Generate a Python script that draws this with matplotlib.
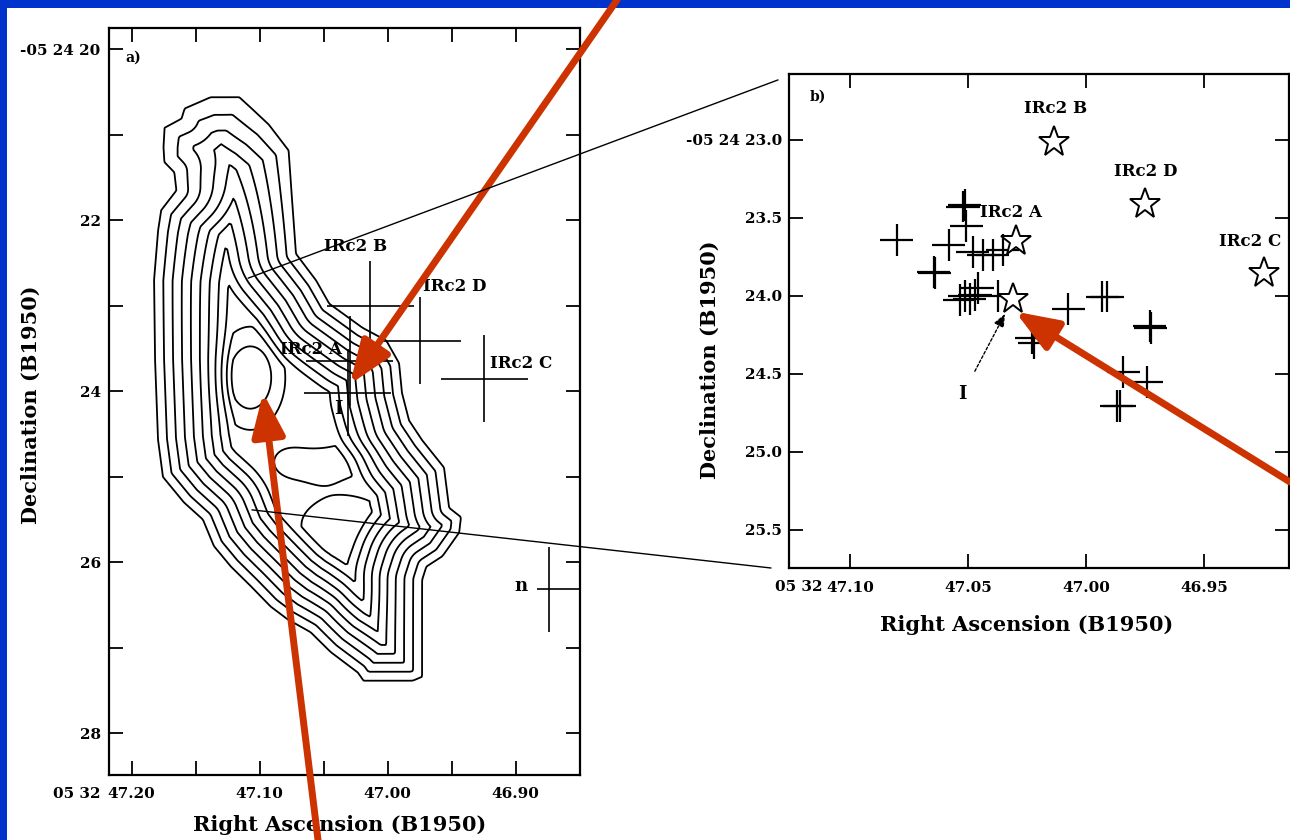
import numpy as np
import matplotlib.pyplot as plt
from matplotlib.patches import Rectangle, ConnectionPatch
from matplotlib.path import Path

plt.rcParams['font.family'] = ['DejaVu Serif']
plt.rcParams['font.weight'] = 'bold'
plt.rcParams['axes.labelweight'] = 'bold'

# Sources: RA in seconds of 05h32m, Dec in arcsec of -05d24m (B1950)
src_names = ['IRc2 A', 'IRc2 B', 'IRc2 C', 'IRc2 D', 'I']
src_ra = [47.0295, 47.0135, 46.9245, 46.975, 47.031]
src_dec = [23.65, 23.01, 23.855, 23.41, 24.02]
src_ra_err = [0.034, 0.034, 0.034, 0.032, 0.034]
src_dec_err = [0.53, 0.53, 0.51, 0.51, 0.51]

# source n (outside the zoomed field)
n_ra = [46.874]
n_dec = [26.32]
n_ra_err = [[0.033], [0.009]]
n_dec_err = [0.50]

# maser spots in the zoomed field
spot_ra = [47.0801, 47.0513, 47.0521, 47.0508, 47.0581, 47.0640, 47.0645, 47.0479,
           47.0436, 47.0394, 47.0352, 47.0513, 47.0492, 47.0470, 47.0534, 47.0458,
           47.0373, 47.0076, 46.9932, 46.9911, 46.9729, 46.9725, 47.0229, 47.0220,
           46.9843, 46.9742, 46.9869, 46.9856]
spot_dec = [23.641, 23.417, 23.429, 23.551, 23.673, 23.853, 23.846, 23.718,
            23.737, 23.737, 23.705, 24.000, 24.019, 23.994, 24.026, 23.949,
            24.000, 24.083, 24.006, 24.006, 24.192, 24.205, 24.269, 24.301,
            24.487, 24.551, 24.705, 24.705]
spot_ra_err = 0.007
spot_dec_err = 0.10

# outer boundary of the emission (lowest contour)
edge_ra = [47.1598, 47.1387, 47.1153, 47.1052, 47.0919, 47.0763, 47.0739, 47.0708,
           47.0552, 47.0450, 47.0192, 47.0005, 46.9903, 46.9880, 46.9825, 46.9723,
           46.9552, 46.9513, 46.9419, 46.9434, 46.9567, 46.9692, 46.9723, 46.9723,
           46.9723, 46.9802, 47.0192, 47.0239, 47.0450, 47.0606, 47.0786, 47.0919,
           47.1075, 47.1231, 47.1364, 47.1450, 47.1598, 47.1763, 47.1802, 47.1825,
           47.1833, 47.1802, 47.1778, 47.1661, 47.1677, 47.1755, 47.1763, 47.1755,
           47.1622]
edge_dec = [20.68, 20.54, 20.54, 20.68, 20.87, 21.18, 21.73, 22.39,
            22.70, 22.97, 23.25, 23.40, 23.67, 24.02, 24.34, 24.57,
            24.89, 25.36, 25.47, 25.66, 25.94, 26.06, 26.21, 27.06,
            27.35, 27.40, 27.40, 27.30, 27.06, 26.83, 26.68, 26.53,
            26.29, 26.06, 25.82, 25.51, 25.31, 25.01, 24.57, 23.64,
            22.70, 22.12, 21.88, 21.65, 21.45, 21.33, 21.15, 20.91,
            20.80]
# brighter knots inside the cloud: RA, Dec, widths (arcsec), extra depth (arcsec)
knot_ra = [47.1073, 47.0762, 47.0528, 47.0294, 47.0333, 47.0253]
knot_dec = [23.84, 24.83, 24.87, 24.78, 25.57, 26.33]
knot_width_ra = [0.20, 0.18, 0.18, 0.18, 0.45, 0.22]
knot_width_dec = [0.30, 0.15, 0.15, 0.15, 0.30, 0.30]
knot_height = [0.30, 0.06, 0.06, 0.06, 0.07, 0.06]
# the northern tip fades out more gently
fade_ra, fade_dec, fade_width, fade_amount = 47.1309, 20.6, 0.9, 0.5
plateau_depth = 0.92   # arcsec
contour_step = 0.105   # arcsec between contours
n_contours = 11

arcsec_per_s = 15 * np.cos(np.radians(5.4))

# depth of every grid point inside the cloud boundary, in arcsec
ra_grid = np.linspace(47.2177, 46.8497, 236)
dec_grid = np.linspace(19.754, 28.491, 374)
RA, DEC = np.meshgrid(ra_grid, dec_grid)
U = (47.2 - RA) * arcsec_per_s
V = DEC
pts = np.column_stack([U.ravel(), V.ravel()])
eu = (47.2 - np.array(edge_ra)) * arcsec_per_s
ev = np.array(edge_dec)
poly = np.column_stack([eu, ev])
dist = np.full(len(pts), np.inf)
for i in range(len(poly)):
    p0, p1 = poly[i], poly[(i + 1) % len(poly)]
    seg = p1 - p0
    t = np.clip(((pts - p0) @ seg) / (seg @ seg), 0, 1)
    proj = p0 + t[:, None] * seg
    dist = np.minimum(dist, np.hypot(*(pts - proj).T))
inside = Path(poly).contains_points(pts)
depth = np.where(inside, dist, -dist).reshape(U.shape)
depth = np.minimum(depth, plateau_depth)

r2 = ((fade_ra - RA) * arcsec_per_s) ** 2 + (DEC - fade_dec) ** 2
depth *= 1 - fade_amount * np.exp(-r2 / (2 * fade_width ** 2))
for ra0, dec0, wx, wy, h in zip(knot_ra, knot_dec, knot_width_ra, knot_width_dec,
                                knot_height):
    r2 = ((ra0 - RA) * arcsec_per_s / wx) ** 2 + ((DEC - dec0) / wy) ** 2
    depth += h * np.exp(-r2 / 2)
contour_levels = 0.012 + contour_step * np.arange(n_contours)

blue = '#0033cc'
red = '#cc3300'

fig = plt.figure(figsize=(12.9, 8.4), dpi=100, facecolor=blue)
fig.patches.append(Rectangle((7 / 1290, 0), 1, 1 - 8 / 840, transform=fig.transFigure,
                             facecolor='white', edgecolor='none', zorder=-10))

ax_a = fig.add_axes([109 / 1290, 1 - 775 / 840, 471 / 1290, 747 / 840])
ax_b = fig.add_axes([789 / 1290, 1 - 568 / 840, 500 / 1290, 494 / 840])

for ax in (ax_a, ax_b):
    ax.patch.set_alpha(0)
    for s in ax.spines.values():
        s.set_linewidth(1.6)
    ax.tick_params(direction='in', length=10, width=1.3, top=True, right=True,
                   labelsize=11)

# ---- panel a: contour map with source positions
ax_a.contour(RA, DEC, depth, levels=contour_levels, colors='black', linewidths=1.3)
ax_a.errorbar(src_ra, src_dec, xerr=src_ra_err, yerr=src_dec_err, fmt='none',
              ecolor='black', elinewidth=1.2, capsize=0)
ax_a.errorbar(n_ra, n_dec, xerr=n_ra_err, yerr=n_dec_err, fmt='none',
              ecolor='black', elinewidth=1.2, capsize=0)

a_offsets = {'IRc2 A': (-70, 12, 'left'), 'IRc2 B': (-46, 60, 'left'),
             'IRc2 C': (6, 15, 'left'), 'IRc2 D': (3, 54, 'left'), 'I': (-10, -16, 'center')}
for name, ra, dec in zip(src_names, src_ra, src_dec):
    dx, dy, ha = a_offsets[name]
    ax_a.annotate(name, (ra, dec), xytext=(dx, dy), textcoords='offset pixels',
                  ha=ha, va='center', fontsize=13 if name == 'I' else 12)
ax_a.annotate('n', (n_ra[0], n_dec[0]), xytext=(-28, 3), textcoords='offset pixels',
              ha='center', va='center', fontsize=13)

ax_a.set_xlim(47.2177, 46.8497)
ax_a.set_ylim(28.491, 19.754)
ax_a.set_xticks(np.arange(47.20, 46.89, -0.05))
ax_a.set_xticklabels(['47.20', '', '47.10', '', '47.00', '', '46.90'])
ax_a.set_yticks(np.arange(20, 29, 1))
ax_a.set_yticklabels(['-05 24 20', '', '22', '', '24', '', '26', '', '28'])
ax_a.tick_params(axis='x', pad=9)
ax_a.tick_params(axis='y', pad=6)
ax_a.annotate('05 32', (47.20, 0), xycoords=('data', 'axes fraction'), xytext=(-31, -12),
              textcoords='offset pixels', ha='right', va='top', fontsize=11)
ax_a.text(0.035, 0.955, 'a)', transform=ax_a.transAxes, fontsize=10)
ax_a.set_xlabel('Right Ascension (B1950)', fontsize=15)
ax_a.set_ylabel('Declination (B1950)', fontsize=15)
ax_a.xaxis.set_label_coords(0.49, -0.054)
ax_a.yaxis.set_label_coords(-0.144, 0.495)

# ---- panel b: zoom on the IRc2 region
ax_b.errorbar(spot_ra, spot_dec, xerr=spot_ra_err, yerr=spot_dec_err, fmt='none',
              ecolor='black', elinewidth=1.6, capsize=0)
ax_b.plot(src_ra, src_dec, ls='none', marker='*', markersize=23, markerfacecolor='white',
          markeredgecolor='black', markeredgewidth=1.4)
b_offsets = {'IRc2 A': (-36, 29, 'left'), 'IRc2 B': (1, 33, 'center'),
             'IRc2 C': (-14, 32, 'center'), 'IRc2 D': (1, 32, 'center')}
for name, ra, dec in zip(src_names, src_ra, src_dec):
    if name in b_offsets:
        dx, dy, ha = b_offsets[name]
        ax_b.annotate(name, (ra, dec), xytext=(dx, dy), textcoords='offset pixels',
                      ha=ha, va='center', fontsize=12)
ax_b.annotate('I', (src_ra[4], src_dec[4]), xytext=(-50, -95), textcoords='offset pixels',
              ha='center', va='center', fontsize=13,
              arrowprops=dict(arrowstyle='-|>,head_length=0.6,head_width=0.25',
                              ls=(0, (2, 1.5)), lw=1.0, color='black',
                              shrinkA=9, shrinkB=12))

ax_b.set_xlim(47.1258, 46.914)
ax_b.set_ylim(25.744, 22.577)
ax_b.set_xticks([47.10, 47.05, 47.00, 46.95])
ax_b.set_xticklabels(['47.10', '47.05', '47.00', '46.95'])
ax_b.set_yticks([23.0, 23.5, 24.0, 24.5, 25.0, 25.5])
ax_b.set_yticklabels(['-05 24 23.0', '23.5', '24.0', '24.5', '25.0', '25.5'])
ax_b.tick_params(axis='x', pad=9)
ax_b.tick_params(axis='y', pad=5)
ax_b.annotate('05 32', (47.10, 0), xycoords=('data', 'axes fraction'), xytext=(-27, -12),
              textcoords='offset pixels', ha='right', va='top', fontsize=11)
ax_b.text(0.042, 0.945, 'b)', transform=ax_b.transAxes, fontsize=10)
ax_b.set_xlabel('Right Ascension (B1950)', fontsize=15)
ax_b.set_ylabel('Declination (B1950)', fontsize=15)
ax_b.xaxis.set_label_coords(0.476, -0.095)
ax_b.yaxis.set_label_coords(-0.138, 0.421)

# lines tying the zoomed field to the map
for xy_a, xy_b in [((47.109, 22.68), (-0.022, 0.988)), ((47.106, 25.39), (-0.036, 0.0))]:
    con = ConnectionPatch(xyA=xy_a, coordsA=ax_a.transData, xyB=xy_b, coordsB=ax_b.transAxes,
                          color='black', lw=1.0)
    fig.add_artist(con)

# red pointer arrows
arrow_kw = dict(arrowstyle='-|>,head_length=1.3,head_width=0.5', mutation_scale=20,
                lw=5, color=red, shrinkA=0, shrinkB=0)
ax_a.annotate('', xy=(47.0294, 23.92), xytext=(617 / 1290, 1.0),
              textcoords='figure fraction', arrowprops=arrow_kw, annotation_clip=False)
ax_a.annotate('', xy=(47.0973, 24.02), xytext=(318 / 1290, 0.0),
              textcoords='figure fraction', arrowprops=arrow_kw, annotation_clip=False)
ax_b.annotate('', xy=(47.030, 24.10), xytext=(1.0, 1 - 482 / 840),
              textcoords='figure fraction', arrowprops=arrow_kw, annotation_clip=False)

fig.savefig('out.png', dpi=100, facecolor=blue)
